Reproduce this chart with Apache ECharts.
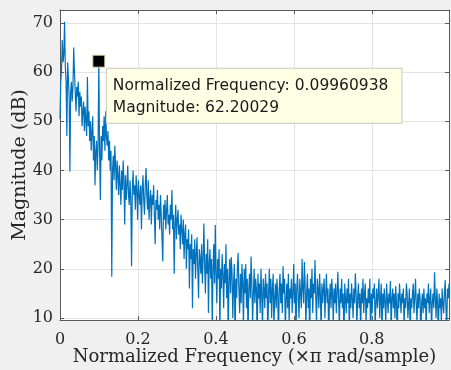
<!DOCTYPE html>
<html>
<head>
<meta charset="utf-8">
<script src="https://cdn.jsdelivr.net/npm/echarts@6/dist/echarts.min.js"></script>
<style>
html,body{margin:0;padding:0;background:#f0f0f0;}
#chart{width:451px;height:370px;}
</style>
</head>
<body>
<div id="chart"></div>
<script>
// Magnitude (dB) for bins k = 0..511, normalized frequency k/512
const mag = [
50.5,58.0,60.5,66.5,62.0,63.5,70.2,61.0,58.0,47.0,62.0,59.0,55.0,39.8,56.0,58.0,
54.0,57.0,65.0,60.0,56.0,52.0,57.0,55.0,58.0,51.0,56.0,53.0,55.0,49.0,52.0,54.0,
48.0,53.0,50.0,47.0,59.0,49.0,52.0,46.0,50.0,44.0,48.0,51.0,42.0,47.0,37.0,44.0,
46.0,40.0,45.0,62.20029,44.0,34.0,47.0,42.0,49.0,46.0,51.0,44.0,52.0,47.0,45.0,48.0,
42.0,46.0,40.0,44.0,18.4,40.0,43.0,38.0,45.0,41.0,36.0,42.0,39.0,35.0,41.0,37.0,
33.0,40.0,36.0,42.0,38.0,29.0,39.0,34.0,37.0,41.0,35.0,33.0,38.0,34.0,20.5,36.0,
40.0,35.0,37.0,32.0,39.0,36.0,30.0,38.0,35.0,33.0,37.0,28.0,36.0,39.0,34.0,31.0,
37.0,40.5,35.0,32.0,38.0,30.0,34.0,36.0,29.0,35.0,33.0,37.0,31.0,25.0,34.0,32.0,
36.0,30.0,33.0,28.0,35.0,31.0,26.0,21.5,33.0,30.0,34.0,28.0,32.0,35.0,29.0,31.0,
27.0,33.0,30.0,36.0,28.0,31.0,19.0,29.0,33.0,26.0,30.0,32.0,27.0,29.0,24.0,31.0,
28.0,25.0,30.0,22.0,27.0,29.0,20.0,26.0,24.0,28.0,16.0,25.0,22.0,27.0,12.0,24.0,
21.0,26.0,18.0,23.0,26.4,20.0,14.0,24.0,22.0,19.0,25.0,17.0,22.0,29.2,21.0,15.0,
23.0,19.0,26.0,11.0,21.0,24.0,18.0,22.0,8.0,20.0,25.0,17.0,28.9,19.0,13.0,22.0,
18.0,24.0,7.0,20.0,16.0,23.0,19.0,12.0,21.0,17.0,25.0,14.0,20.0,6.0,18.0,22.0,
15.0,22.4,19.0,10.0,17.0,21.0,5.0,18.0,14.0,20.0,23.2,16.0,11.0,19.0,13.0,21.0,
17.0,8.0,20.0,15.0,21.0,12.0,18.0,6.0,16.0,19.0,14.0,22.5,17.0,9.0,15.0,20.0,
13.0,18.0,16.0,5.0,19.0,14.0,17.0,11.0,20.0,15.0,7.0,18.0,16.0,12.0,19.0,14.0,
17.0,6.0,15.0,20.0,13.0,18.0,10.0,16.0,19.0,8.0,14.0,17.0,12.0,18.0,15.0,5.0,
16.0,19.0,13.0,17.0,11.0,20.5,15.0,18.0,7.0,14.0,17.0,12.0,19.0,9.0,16.0,14.0,
18.0,11.0,15.0,21.0,13.0,17.0,6.0,16.0,19.0,14.0,10.0,18.0,15.0,12.0,22.0,16.0,
13.0,21.4,17.0,8.0,15.0,19.0,12.0,16.0,5.0,18.0,14.0,20.0,11.0,17.0,15.0,21.8,
14.0,9.0,18.0,16.0,12.0,19.0,15.0,7.0,17.0,13.0,16.0,18.0,10.0,15.0,19.0,13.0,
16.0,6.0,14.0,17.0,12.0,18.0,15.0,9.0,16.0,13.0,17.0,11.0,15.0,19.4,14.0,8.0,
16.0,13.0,18.0,12.0,15.0,5.0,17.0,14.0,11.0,16.0,13.0,18.0,7.0,15.0,12.0,17.0,
14.0,10.0,16.0,13.0,19.1,15.0,8.0,14.0,17.0,12.0,15.0,6.0,16.0,13.0,18.0,11.0,
15.0,17.0,9.0,14.0,12.0,16.0,13.0,18.0,5.0,15.0,11.0,16.0,14.0,17.0,8.0,13.0,
16.0,12.0,15.0,18.0,10.0,14.0,17.0,6.0,15.0,12.0,16.0,13.0,9.0,17.0,14.0,11.0,
15.0,13.0,17.5,7.0,14.0,16.0,12.0,15.0,10.0,16.5,13.0,5.0,15.0,12.0,17.0,14.0,
11.0,15.0,13.0,16.0,8.0,14.0,12.0,17.0,15.0,10.0,13.0,16.0,6.0,14.0,12.0,15.0,
17.0,11.0,14.0,18.0,13.0,9.0,15.0,12.0,16.0,14.0,5.0,13.0,15.0,11.0,16.0,12.0,
14.0,8.0,15.0,13.0,17.0,11.0,14.0,16.0,7.0,13.0,15.0,12.0,19.3,14.0,10.0,16.0,
13.0,6.0,15.0,12.0,14.0,9.0,16.0,13.0,11.0,15.0,17.7,12.0,8.0,16.0,14.0,17.0
];
const nBins = 512;
const freq = mag.map((_, k) => k / nBins);
const tipFreq = 0.09960938;
const tipMag = 62.20029;
const xName = 'Normalized Frequency (×π rad/sample)';
const yName = 'Magnitude (dB)';
const xMin = 0, xMax = 511 / 512, yMin = 9.6, yMax = 72.6;

const serif = 'DejaVu Serif';
const axisCol = '#5a5a5a';
const gridCol = '#e3e3e3';
const txtCol = '#262626';

const chart = echarts.init(document.getElementById('chart'), null, {renderer: 'canvas'});
const baseX = {
  type: 'value', min: xMin, max: xMax, interval: 0.2,
  axisLine: {show: true, onZero: false, lineStyle: {color: axisCol, width: 1}},
  axisTick: {show: true, inside: true, length: 4, lineStyle: {color: axisCol}},
};
const baseY = {
  type: 'value', min: yMin, max: yMax, splitNumber: 6,
  axisLine: {show: true, onZero: false, lineStyle: {color: axisCol, width: 1}},
  axisTick: {show: true, inside: true, length: 4, lineStyle: {color: axisCol}},
};
chart.setOption({
  backgroundColor: '#f0f0f0',
  animation: false,
  grid: {left: 60, right: 2, top: 10, bottom: 50, show: true, backgroundColor: '#ffffff', borderWidth: 0,
    containLabel: false, outerBoundsMode: 'none'},
  xAxis: [
    Object.assign({}, baseX, {
      position: 'bottom',
      name: xName, nameLocation: 'middle', nameGap: 28, nameMoveOverlap: false,
      nameTextStyle: {fontFamily: serif, fontSize: 18, color: txtCol},
      axisLabel: {show: true, showMaxLabel: false, margin: 12, fontFamily: serif, fontSize: 16, color: txtCol,
        formatter: v => (Math.abs(v) < 1e-9 ? '0' : String(+v.toFixed(1)))},
      splitLine: {show: true, lineStyle: {color: gridCol, width: 1}}
    }),
    Object.assign({}, baseX, {
      position: 'top', axisLabel: {show: false}, splitLine: {show: false}
    })
  ],
  yAxis: [
    Object.assign({}, baseY, {
      position: 'left',
      name: yName, nameLocation: 'middle', nameGap: 30, nameRotate: 90, nameMoveOverlap: false,
      nameTextStyle: {fontFamily: serif, fontSize: 19, color: txtCol},
      axisLabel: {show: true, showMinLabel: false, showMaxLabel: false, margin: 7, fontFamily: serif, fontSize: 16, color: txtCol},
      splitLine: {show: true, lineStyle: {color: gridCol, width: 1}}
    }),
    Object.assign({}, baseY, {
      position: 'right', axisLabel: {show: false}, splitLine: {show: false}
    })
  ],
  series: [{
    type: 'line',
    xAxisIndex: 0, yAxisIndex: 0,
    data: freq.map((f, i) => [f, mag[i]]),
    showSymbol: false, symbol: 'none',
    clip: true,
    lineStyle: {color: '#0072BD', width: 1.2},
    markPoint: {
      symbol: 'rect', symbolSize: 12,
      itemStyle: {color: '#000000', borderColor: '#d9d2a6', borderWidth: 1},
      label: {
        show: true,
        position: [14.5, 14],
        align: 'left', verticalAlign: 'top',
        formatter: 'Normalized Frequency: ' + tipFreq.toFixed(8) + '\nMagnitude: ' + tipMag.toFixed(5),
        fontFamily: 'DejaVu Sans', fontSize: 15.5, lineHeight: 22, color: '#1a1a1a',
        backgroundColor: '#ffffe6', borderColor: '#c8c8c0', borderWidth: 1,
        padding: [6, 13, 4, 6]
      },
      data: [{coord: [tipFreq, tipMag]}]
    }
  }]
});
</script>
</body>
</html>
